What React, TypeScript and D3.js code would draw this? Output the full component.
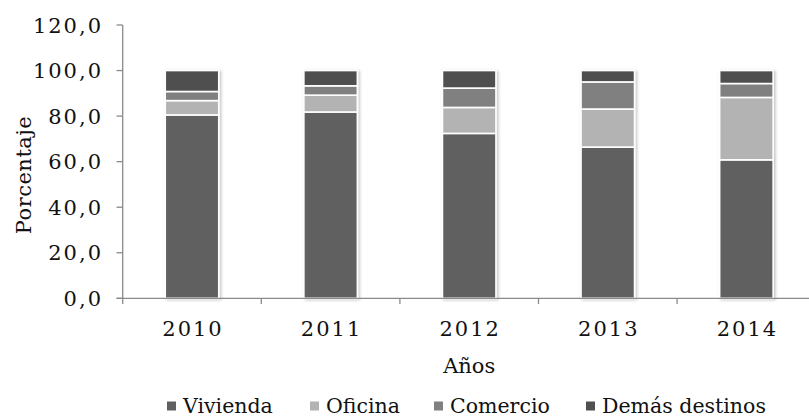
import React from "react";
import * as d3 from "d3";

const years = ["2010", "2011", "2012", "2013", "2014"];
const vivienda = [80.5, 81.8, 72.4, 66.4, 60.8];
const oficina = [6.3, 7.4, 11.4, 16.7, 27.4];
const comercio = [4.0, 4.1, 8.5, 11.9, 6.1];
const demas = [9.2, 6.7, 7.7, 5.0, 5.7];
const seriesNames = ["Vivienda", "Oficina", "Comercio", "Demás destinos"];
const seriesColors = ["#606060", "#b3b3b3", "#808080", "#505050"];
const yTicks = [0, 20, 40, 60, 80, 100, 120];

const W = 809;
const H = 418;
const FONT = "'DejaVu Serif', serif";

export default function App() {
  const rows = years.map((y, i) => ({
    year: y,
    Vivienda: vivienda[i],
    Oficina: oficina[i],
    Comercio: comercio[i],
    "Demás destinos": demas[i],
  }));
  const stacked = d3.stack<any>().keys(seriesNames)(rows);

  const x = d3.scaleBand<string>().domain(years).range([122.7, 815.7]).padding(0);
  const y = d3.scaleLinear().domain([0, 120]).range([298.3, 25]);
  const barW = x.bandwidth() * 0.386;
  const axisColor = "#8a8a8a";
  const fmt = (v: number) => v.toFixed(1).replace(".", ",");

  const legendSquareX = [167, 310, 434, 586];

  return (
    <svg
      width={W}
      height={H}
      style={{ position: "absolute", left: 0, top: 0, background: "#fff" }}
      fontFamily={FONT}
    >
      <defs>
        <filter id="shadow" x="-20%" y="-5%" width="140%" height="110%">
          <feDropShadow dx="1.5" dy="1" stdDeviation="1.8" floodColor="#000" floodOpacity="0.25" />
        </filter>
      </defs>
      <rect width={W} height={H} fill="#fff" />

      {/* bars */}
      {years.map((yr, i) => {
        const cx = (x(yr) as number) + x.bandwidth() / 2;
        return (
          <g key={yr} filter="url(#shadow)">
            {stacked.map((s, si) => {
              const d = s[i];
              return (
                <rect
                  key={si}
                  x={cx - barW / 2}
                  y={y(d[1])}
                  width={barW}
                  height={y(d[0]) - y(d[1])}
                  fill={seriesColors[si]}
                  stroke="#fff"
                  strokeWidth={1.6}
                />
              );
            })}
          </g>
        );
      })}

      {/* y axis */}
      <line x1={122.7} x2={122.7} y1={y(120)} y2={304} stroke={axisColor} strokeWidth={1.3} />
      {yTicks.map((t) => (
        <g key={t}>
          <line x1={116.5} x2={122.7} y1={y(t)} y2={y(t)} stroke={axisColor} strokeWidth={1.3} />
          <text
            x={103}
            y={y(t) + 7.5}
            textAnchor="end"
            fontSize={21}
            letterSpacing={2}
            fill="#111"
          >
            {fmt(t)}
          </text>
        </g>
      ))}

      {/* x axis */}
      <line x1={116.5} x2={W} y1={y(0)} y2={y(0)} stroke={axisColor} strokeWidth={1.3} />
      {years.slice(1).map((yr) => (
        <line
          key={yr}
          x1={x(yr) as number}
          x2={x(yr) as number}
          y1={y(0)}
          y2={304}
          stroke={axisColor}
          strokeWidth={1.3}
        />
      ))}
      {years.map((yr) => (
        <text
          key={yr}
          x={(x(yr) as number) + x.bandwidth() / 2 + 1}
          y={336}
          textAnchor="middle"
          fontSize={21}
          letterSpacing={2}
          fill="#111"
        >
          {yr}
        </text>
      ))}

      {/* axis titles */}
      <text x={469.2} y={373} textAnchor="middle" fontSize={21} fill="#111">
        Años
      </text>
      <text
        transform={`translate(31,175) rotate(-90)`}
        textAnchor="middle"
        fontSize={21}
        letterSpacing={0.5}
        fill="#111"
      >
        Porcentaje
      </text>

      {/* legend */}
      {seriesNames.map((n, i) => (
        <g key={n}>
          <rect x={legendSquareX[i]} y={401.5} width={9} height={9} fill={seriesColors[i]} />
          <text x={legendSquareX[i] + 16} y={413} fontSize={20.5} fill="#111">
            {n}
          </text>
        </g>
      ))}
    </svg>
  );
}
